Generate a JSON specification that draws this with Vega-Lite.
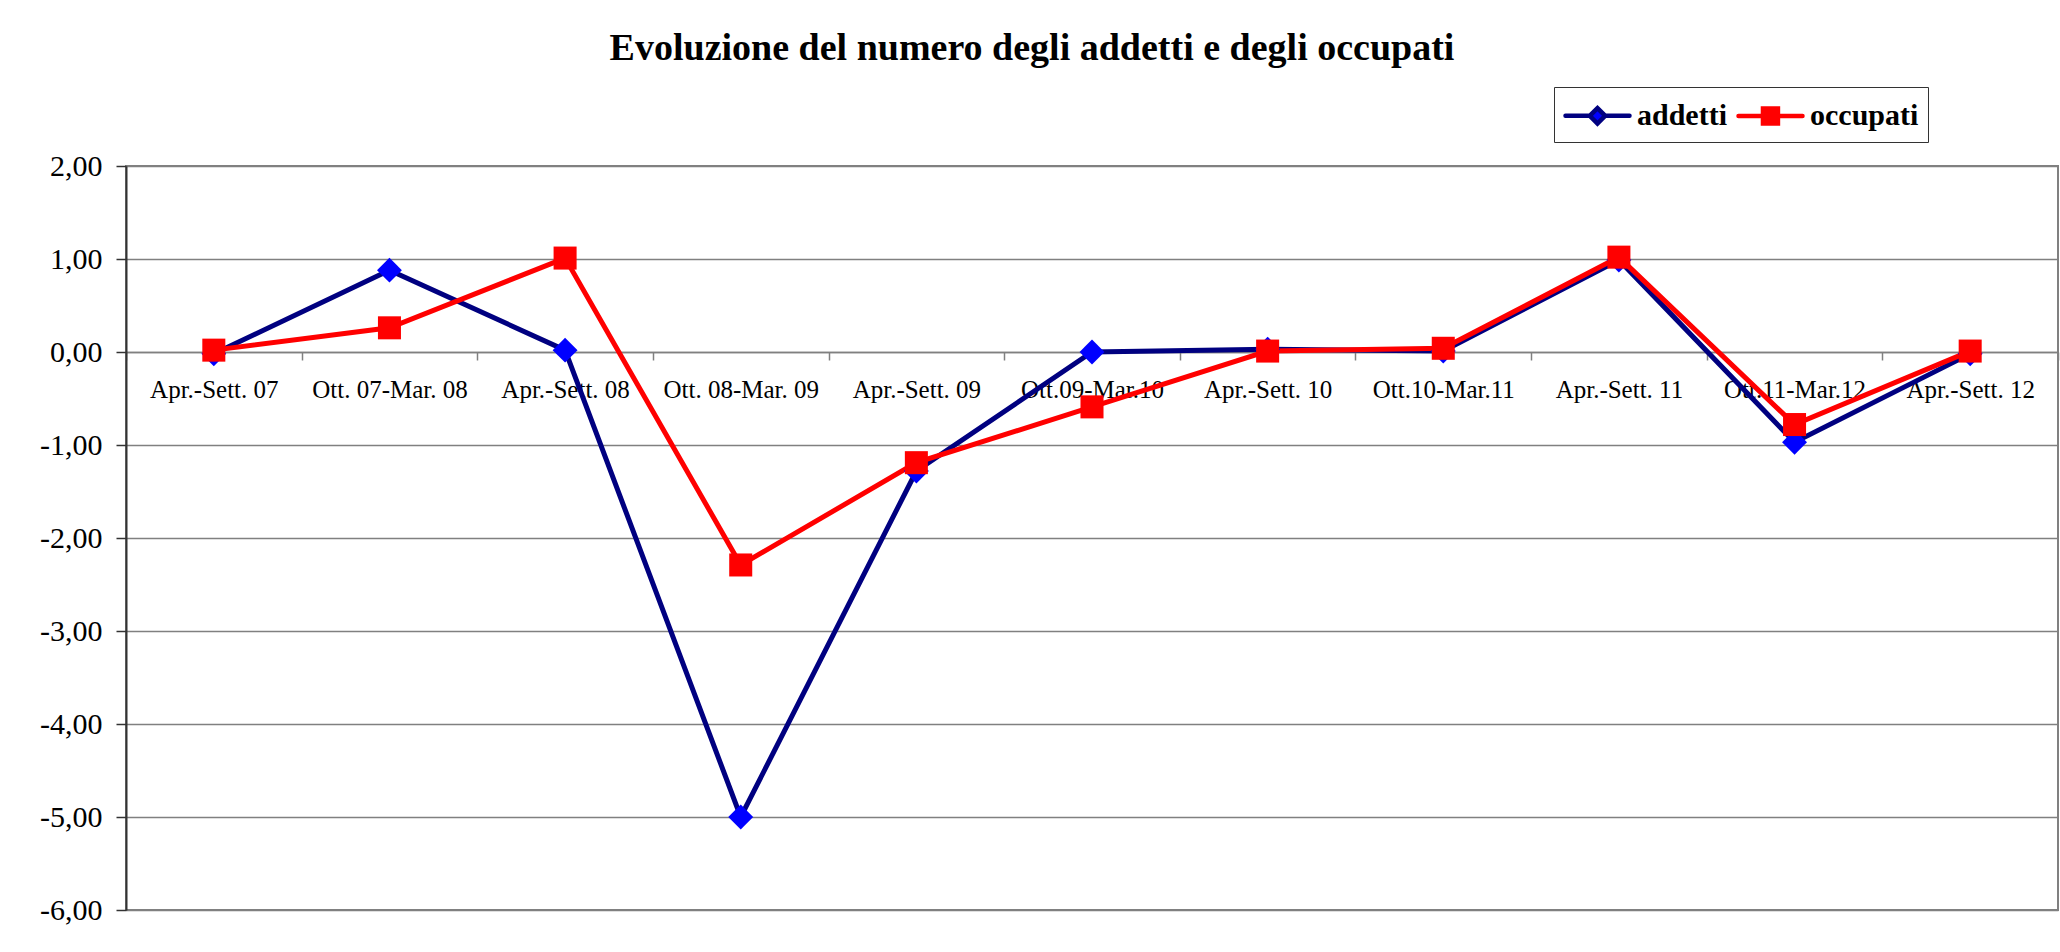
{
  "$schema": "https://vega.github.io/schema/vega-lite/v6.json",
  "autosize": {"type": "none"},
  "width": 1932,
  "height": 744,
  "padding": {"left": 126, "top": 166, "right": 2, "bottom": 42},
  "background": "#ffffff",
  "title": {
    "text": "Evoluzione del numero degli addetti e degli occupati",
    "font": "Liberation Serif",
    "fontSize": 38,
    "fontWeight": "bold",
    "color": "#000000",
    "anchor": "middle",
    "frame": "group",
    "dx": -60,
    "offset": 19
  },
  "config": {
    "view": {"stroke": "#808080", "strokeWidth": 2},
    "font": "Liberation Serif"
  },
  "data": {
    "values": [
      {"period": "Apr.-Sett. 07", "series": "addetti", "value": -0.02},
      {"period": "Ott. 07-Mar. 08", "series": "addetti", "value": 0.88},
      {"period": "Apr.-Sett. 08", "series": "addetti", "value": 0.02},
      {"period": "Ott. 08-Mar. 09", "series": "addetti", "value": -5.0},
      {"period": "Apr.-Sett. 09", "series": "addetti", "value": -1.28},
      {"period": "Ott.09-Mar.10", "series": "addetti", "value": 0.0},
      {"period": "Apr.-Sett. 10", "series": "addetti", "value": 0.03},
      {"period": "Ott.10-Mar.11", "series": "addetti", "value": 0.01},
      {"period": "Apr.-Sett. 11", "series": "addetti", "value": 0.99},
      {"period": "Ott.11-Mar.12", "series": "addetti", "value": -0.97},
      {"period": "Apr.-Sett. 12", "series": "addetti", "value": -0.02},
      {"period": "Apr.-Sett. 07", "series": "occupati", "value": 0.02},
      {"period": "Ott. 07-Mar. 08", "series": "occupati", "value": 0.26},
      {"period": "Apr.-Sett. 08", "series": "occupati", "value": 1.01},
      {"period": "Ott. 08-Mar. 09", "series": "occupati", "value": -2.29},
      {"period": "Apr.-Sett. 09", "series": "occupati", "value": -1.19},
      {"period": "Ott.09-Mar.10", "series": "occupati", "value": -0.59},
      {"period": "Apr.-Sett. 10", "series": "occupati", "value": 0.01},
      {"period": "Ott.10-Mar.11", "series": "occupati", "value": 0.04},
      {"period": "Apr.-Sett. 11", "series": "occupati", "value": 1.02},
      {"period": "Ott.11-Mar.12", "series": "occupati", "value": -0.78},
      {"period": "Apr.-Sett. 12", "series": "occupati", "value": 0.01}
    ]
  },
  "encoding": {
    "x": {
      "field": "period",
      "type": "nominal",
      "sort": null,
      "bandPosition": 0.5,
      "scale": {"type": "band", "paddingInner": 0, "paddingOuter": 0},
      "axis": {
        "title": null,
        "orient": "bottom",
        "offset": -558,
        "labelAngle": 0,
        "labelFont": "Liberation Serif",
        "labelFontSize": 25,
        "labelColor": "#000000",
        "labelPadding": 17,
        "labelOverlap": false,
        "labelLimit": 400,
        "tickBand": "extent",
        "ticks": true,
        "tickSize": 8,
        "tickColor": "#808080",
        "tickWidth": 1.5,
        "domainColor": "#808080",
        "domainWidth": 1.5,
        "grid": false
      }
    },
    "y": {
      "field": "value",
      "type": "quantitative",
      "scale": {"domain": [-6, 2], "nice": false, "zero": false},
      "axis": {
        "title": null,
        "values": [-6, -5, -4, -3, -2, -1, 0, 1, 2],
        "labelExpr": "replace(replace(format(datum.value, '.2f'), '.', ','), '\u2212', '-')",
        "labelFont": "Liberation Serif",
        "labelFontSize": 30,
        "labelColor": "#000000",
        "labelPadding": 14,
        "tickSize": 10,
        "tickColor": "#333333",
        "tickWidth": 1.5,
        "domainColor": "#333333",
        "domainWidth": 2,
        "grid": true,
        "gridColor": "#808080",
        "gridWidth": 1.5
      }
    }
  },
  "layer": [
    {
      "mark": {"type": "line", "strokeWidth": 5},
      "encoding": {
        "color": {
          "field": "series",
          "type": "nominal",
          "scale": {"domain": ["addetti", "occupati"], "range": ["#000080", "#FF0000"]},
          "legend": {
            "title": null,
            "orient": "none",
            "legendX": 1428,
            "legendY": -79,
            "direction": "horizontal",
            "padding": 9,
            "strokeColor": "#333333",
            "fillColor": "#ffffff",
            "labelFont": "Liberation Serif",
            "labelFontWeight": "bold",
            "labelFontSize": 30,
            "labelColor": "#000000",
            "labelOffset": 35,
            "columnPadding": 2,
            "symbolSize": 1156,
            "symbolStrokeWidth": 4.5,
            "symbolType": "M-1,0H2.765",
            "encoding": {
              "symbols": {
                "shape": {
                  "condition": {"test": "datum.value === 'addetti'", "value": "M-1,0H0.424M1.336,0H2.765M0.88,-0.456L1.336,0L0.88,0.456L0.424,0Z"},
                  "value": "M-1,0H2.765M0.44,-0.44H1.32V0.44H0.44Z"
                },
                "fill": {
                  "condition": {"test": "datum.value === 'addetti'", "value": "#0000FF"},
                  "value": "#FF0000"
                },
                "fillOpacity": {"value": 1},
                "strokeCap": {"value": "round"}
              }
            }
          }
        }
      }
    },
    {
      "transform": [{"filter": "datum.series === 'addetti'"}],
      "mark": {"type": "point", "shape": "diamond", "size": 620, "filled": true, "fill": "#0000FF", "opacity": 1, "strokeWidth": 0}
    },
    {
      "transform": [{"filter": "datum.series === 'occupati'"}],
      "mark": {"type": "point", "shape": "square", "size": 530, "filled": true, "fill": "#FF0000", "opacity": 1, "strokeWidth": 0}
    }
  ]
}
